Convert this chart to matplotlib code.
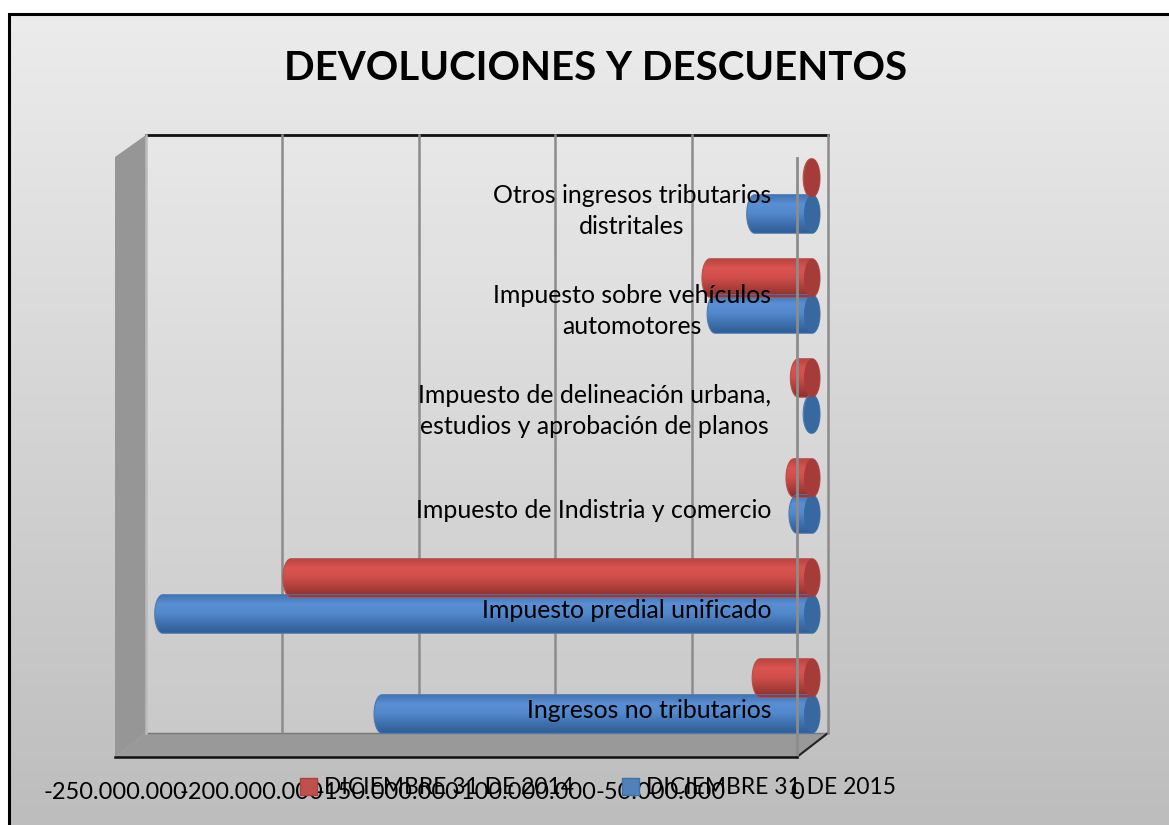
import numpy as np
import matplotlib
matplotlib.use('Agg')
import matplotlib.pyplot as plt
from matplotlib.colors import LinearSegmentedColormap
from matplotlib.patches import Patch, Polygon, Ellipse

W, H = 1169, 825

# Data, bottom to top
categories = ['Ingresos no tributarios',
              'Impuesto predial unificado',
              'Impuesto de Indistria y comercio',
              'Impuesto de delineación urbana,\nestudios y aprobación de planos',
              'Impuesto sobre vehículos\nautomotores',
              'Otros ingresos tributarios\ndistritales']
values_2014 = [-19000000, -191000000, -6600000, -5000000, -37400000, -300000]
values_2015 = [-157600000, -238000000, -5500000, -300000, -35500000, -21000000]
x_ticks = [-250000000, -200000000, -150000000, -100000000, -50000000, 0]
x_labels = ['-250.000.000', '-200.000.000', '-150.000.000', '-100.000.000', '-50.000.000', '0']
legend_labels = ['DICIEMBRE 31 DE 2014', 'DICIEMBRE 31 DE 2015']

plt.rcParams['font.family'] = ['Lato', 'DejaVu Sans']

fig = plt.figure(figsize=(W / 100, H / 100), dpi=100, facecolor='white')


def px_axes(left, right, top, bottom, z):
    # axes placed by pixel box, top-left origin
    ax = fig.add_axes([left / W, 1 - bottom / H, (right - left) / W, (bottom - top) / H], zorder=z)
    ax.patch.set_alpha(0)
    return ax


# chart area background
bg = px_axes(0, W, 0, H, 0)
bg.set_xlim(0, W)
bg.set_ylim(H, 0)
bg.axis('off')
grey = LinearSegmentedColormap.from_list('bg', ['#ececec', '#bdbdbd'])
bg.imshow(np.linspace(0, 1, 256)[:, None], cmap=grey, aspect='auto', extent=(9, W, H, 14))
bg.set_xlim(0, W)
bg.set_ylim(H, 0)
bg.plot([9, 9, W], [H, 14, 14], color='black', lw=2.2, solid_joinstyle='miter')

# 3d box: left wall and floor
bg.add_patch(Polygon([(115, 157), (146, 135), (146, 733), (115, 757)], color='#969696', lw=0))
bg.add_patch(Polygon([(115, 757), (797, 757), (828, 733), (146, 733)], color='#999999', lw=0))
bg.add_patch(Polygon([(146, 135), (828, 135), (828, 733), (146, 733)], color='white', alpha=0.12, lw=0))
bg.plot([146, 828], [135, 135], color='#111111', lw=2)
bg.plot([146, 828], [733, 733], color='#777777', lw=1)
bg.plot([797, 828], [757, 733], color='#222222', lw=1.5)

# back wall gridlines
back = px_axes(146, 828, 135, 733, 1)
back.set_xlim(-250000000, 0)
back.set_ylim(0, 1)
back.set_xticks(x_ticks)
back.grid(axis='x', color='#8c8c8c', lw=1.8)
for gl in back.get_xgridlines():
    gl.set_clip_on(False)
back.get_xgridlines()[0].set_color('#bbbbbb')
back.tick_params(length=0, labelbottom=False, labelleft=False)
back.set_yticks([])
for s in back.spines.values():
    s.set_visible(False)

# cylinders sit half way through the depth
bars = px_axes(130, 812, 146, 746, 2)
bars.set_xlim(-250000000, 0)
bars.set_ylim(-0.5, 5.5)
bars.axis('off')

PX_X = 250000000 / 682
CAP = 8 * PX_X
BAR_H = 0.385
blue_cm = LinearSegmentedColormap.from_list('b', ['#3f72ad', '#5a8fd4', '#5288cc', '#3f71ae', '#2f5d96'])
red_cm = LinearSegmentedColormap.from_list('r', ['#b5433f', '#d9544f', '#cf4e4a', '#ad3f3b', '#8c2f2c'])


def cylinder(v, yc, cm, cap_color, edge):
    t = np.linspace(np.pi / 2, 3 * np.pi / 2, 30)
    left = np.column_stack([v + CAP * np.cos(t), yc + BAR_H / 2 * np.sin(t)])
    right = np.column_stack([CAP * np.cos(t + np.pi), yc - BAR_H / 2 * np.sin(t)])
    shape = Polygon(np.vstack([left, right]), closed=True, transform=bars.transData,
                    fc='none', ec=edge, lw=0.8, zorder=3, clip_on=False)
    bars.add_patch(shape)
    im = bars.imshow(np.linspace(0, 1, 128)[:, None], cmap=cm, aspect='auto', zorder=2,
                     extent=(v - CAP, CAP, yc - BAR_H / 2, yc + BAR_H / 2))
    im.set_clip_path(shape)
    bars.add_patch(Ellipse((0, yc), 2 * CAP, BAR_H, fc=cap_color, ec='none', zorder=4, clip_on=False))


# blue goes first, red sits on top of it
for i, v in enumerate(values_2015):
    cylinder(v, i - 0.18, blue_cm, '#37689f', '#4a78b0')
for i, v in enumerate(values_2014):
    cylinder(v, i + 0.18, red_cm, '#a63c3a', '#b5504c')
bars.set_xlim(-250000000, 0)
bars.set_ylim(-0.5, 5.5)

# front plane: value axis and the category texts
front = px_axes(115, 797, 158, 757, 3)
front.set_xlim(-250000000, 0)
front.set_ylim(0, 1)
front.set_xticks(x_ticks)
front.set_xticklabels(x_labels)
front.set_yticks([])
front.tick_params(axis='x', length=0, pad=18, labelsize=17)
for s in front.spines.values():
    s.set_visible(False)
front.spines['bottom'].set_visible(True)
front.spines['bottom'].set_color('#111111')
front.spines['bottom'].set_linewidth(1.8)
front.spines['right'].set_visible(True)
front.spines['right'].set_color('#8c8c8c')
front.spines['right'].set_linewidth(2)

for i, name in enumerate(categories):
    bars.text(-15000000, i - 0.15, name, ha='right', va='center', multialignment='center',
              fontsize=17.9, color='black', zorder=10, clip_on=False, linespacing=1.45)

fig.text(596 / W, 1 - 69 / H, 'DEVOLUCIONES Y DESCUENTOS', ha='center', va='center',
         fontsize=29, fontweight='bold', color='black', zorder=10)

handles = [Patch(fc='#c0504d', ec='#a8423f', label=legend_labels[0]),
           Patch(fc='#4f81bd', ec='#41719f', label=legend_labels[1])]
fig.legend(handles=handles, loc='center', bbox_to_anchor=(598 / W, 1 - 788 / H), ncol=2, frameon=False,
           fontsize=16.4, handlelength=0.74, handleheight=0.74, handletextpad=0.3, columnspacing=2.1)

fig.savefig('out.png', dpi=100, facecolor='white')
